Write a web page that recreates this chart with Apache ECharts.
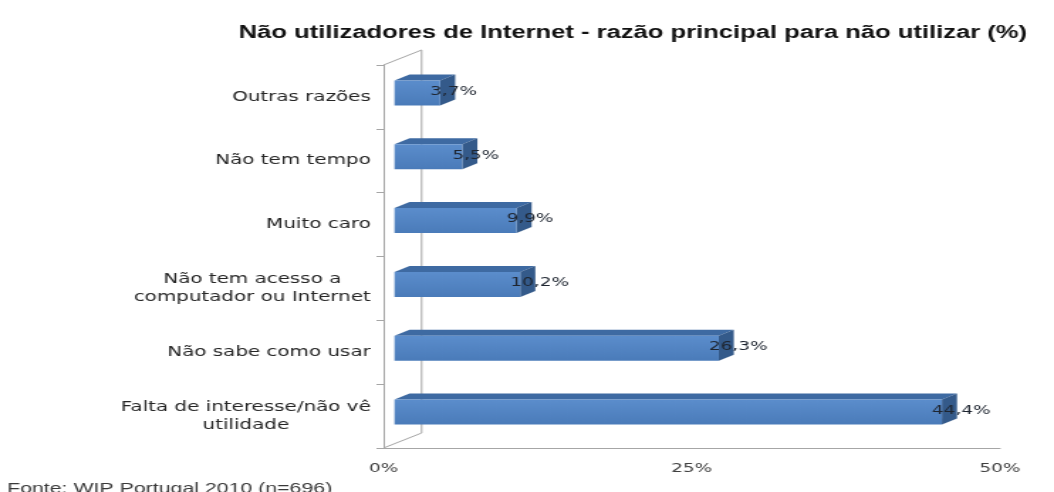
<!DOCTYPE html>
<html>
<head>
<meta charset="utf-8">
<script src="https://cdn.jsdelivr.net/npm/echarts@6/dist/echarts.min.js"></script>
<style>
  html, body { margin: 0; padding: 0; background: #fff; overflow: hidden; }
  #wrap { width: 1054px; height: 492px; overflow: hidden; }
  /* the chart is drawn narrow and widened horizontally */
  #chart { width: 742px; height: 492px; transform: scaleX(1.4205); transform-origin: 0 0; }
</style>
</head>
<body>
<div id="wrap"><div id="chart"></div></div>
<script>
const titleText = 'Não utilizadores de Internet - razão principal para não utilizar (%)';
const sourceText = 'Fonte: WIP Portugal 2010 (n=696)';
const categories = [
  'Outras razões',
  'Não tem tempo',
  'Muito caro',
  'Não tem acesso a\ncomputador ou Internet',
  'Não sabe como usar',
  'Falta de interesse/não vê\nutilidade'
];
const values = [3.7, 5.5, 9.9, 10.2, 26.3, 44.4];
const axisTicks = [0, 25, 50];

const fmtPct = v => String(v.toFixed(1)).replace('.', ',') + '%';

const GRID = { left: 270, right: 38, top: 65, bottom: 44 };
const WALL = { dx: 26.8, dy: -15 };   // depth of the back wall
const BAR = { dx: 7.7, dy: -4, ddx: 10.6, ddy: -6, h: 25 };

const chart = echarts.init(document.getElementById('chart'), null, { renderer: 'canvas' });

function renderBar(params, api) {
  const v = api.value(0);
  const c = api.value(1);
  const p0 = api.coord([0, c]);
  const p1 = api.coord([v, c]);
  const x0 = p0[0] + BAR.dx, x1 = p1[0] + BAR.dx;
  const yT = p0[1] + BAR.dy - BAR.h / 2, yB = yT + BAR.h;
  return {
    type: 'group',
    children: [
      { type: 'polygon', shape: { points: [[x0, yT], [x1, yT], [x1 + BAR.ddx, yT + BAR.ddy], [x0 + BAR.ddx, yT + BAR.ddy]] },
        style: { fill: '#3e6aa2' } },
      { type: 'polygon', shape: { points: [[x1, yT], [x1 + BAR.ddx, yT + BAR.ddy], [x1 + BAR.ddx, yB + BAR.ddy], [x1, yB]] },
        style: { fill: '#345a8a' } },
      { type: 'rect', shape: { x: x0, y: yT, width: x1 - x0, height: BAR.h },
        style: { fill: new echarts.graphic.LinearGradient(0, 0, 0, 1, [
          { offset: 0, color: '#5b8dcc' }, { offset: 1, color: '#4a7bb9' }]) } },
      { type: 'text', x: x1 - 7, y: (yT + yB) / 2 - 1.5,
        style: { text: fmtPct(v), fill: '#1e2530', font: '13px "DejaVu Sans"', align: 'left', verticalAlign: 'middle' } }
    ]
  };
}

// back wall of the plot area, drawn behind the bars
function renderWall(params, api) {
  const cs = params.coordSys;
  const x = cs.x, yt = cs.y, yb = cs.y + cs.height;
  const ls = { stroke: '#a6a6a6', lineWidth: 1 };
  return {
    type: 'group',
    children: [
      { type: 'line', shape: { x1: x, y1: yt, x2: x + WALL.dx, y2: yt + WALL.dy }, style: ls },
      { type: 'line', shape: { x1: x, y1: yb, x2: x + WALL.dx, y2: yb + WALL.dy }, style: ls },
      { type: 'line', shape: { x1: x + WALL.dx, y1: yt + WALL.dy, x2: x + WALL.dx, y2: yb + WALL.dy }, style: ls }
    ]
  };
}

chart.setOption({
  animation: false,
  backgroundColor: '#fff',
  title: [
    { text: titleText, left: 163, top: 19,
      textStyle: { fontFamily: '"Liberation Sans", Arial, sans-serif', fontWeight: 'bold', fontSize: 18, color: '#111' } },
    { text: sourceText, left: 0, top: 476,
      textStyle: { fontFamily: '"Liberation Sans", Arial, sans-serif', fontWeight: 'normal', fontSize: 15, color: '#3a3a3a' } }
  ],
  grid: { left: GRID.left, right: GRID.right, top: GRID.top, bottom: GRID.bottom, containLabel: false },
  xAxis: {
    type: 'value', min: axisTicks[0], max: axisTicks[axisTicks.length - 1], interval: axisTicks[1] - axisTicks[0],
    axisLine: { show: true, lineStyle: { color: '#a6a6a6', width: 1 } },
    axisTick: { show: false },
    splitLine: { show: false },
    axisLabel: { formatter: v => v + '%', fontFamily: '"DejaVu Sans"', fontSize: 13, color: '#404040', margin: 14 }
  },
  yAxis: {
    type: 'category', data: categories, inverse: true,
    axisLine: { show: true, lineStyle: { color: '#a6a6a6', width: 1 } },
    axisTick: { show: true, length: 5, lineStyle: { color: '#a6a6a6' } },
    axisLabel: {
      margin: 9, align: 'right', fontFamily: '"DejaVu Sans"', fontSize: 14, color: '#262626', lineHeight: 18,
      formatter: s => s.split('\n').map(l => '{c|' + l + '}').join('\n'),
      rich: { c: { align: 'center', fontFamily: '"DejaVu Sans"', fontSize: 14, color: '#262626', lineHeight: 18 } }
    }
  },
  series: [
    { type: 'custom', renderItem: renderWall, data: [[0, 0]], encode: { x: 0, y: 1 }, silent: true, z: 1 },
    { type: 'custom', renderItem: renderBar, data: values.map((v, i) => [v, i]), encode: { x: 0, y: 1 }, z: 2 }
  ]
});
</script>
</body>
</html>
